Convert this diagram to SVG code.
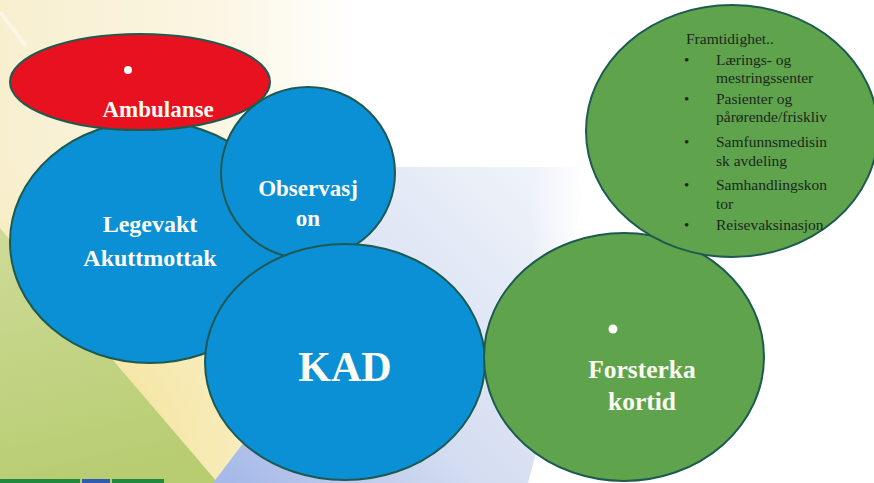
<svg xmlns="http://www.w3.org/2000/svg" width="874" height="483" viewBox="0 0 874 483">
  <defs>
    <linearGradient id="creamWash" x1="0" y1="0" x2="360" y2="0" gradientUnits="userSpaceOnUse">
      <stop offset="0" stop-color="#f8efcf"/>
      <stop offset="0.6" stop-color="#fbf6e3"/>
      <stop offset="1" stop-color="#ffffff"/>
    </linearGradient>
    <radialGradient id="creamGlow" cx="60" cy="460" r="300" gradientUnits="userSpaceOnUse">
      <stop offset="0" stop-color="#f3e08e" stop-opacity="1"/>
      <stop offset="0.7" stop-color="#f6e7a8" stop-opacity="0.6"/>
      <stop offset="1" stop-color="#f8eecb" stop-opacity="0"/>
    </radialGradient>
    <linearGradient id="meadow" x1="0" y1="230" x2="60" y2="483" gradientUnits="userSpaceOnUse">
      <stop offset="0" stop-color="#cedb98"/>
      <stop offset="1" stop-color="#b8cd72"/>
    </linearGradient>
    <linearGradient id="skyWedge" x1="225" y1="475" x2="520" y2="175" gradientUnits="userSpaceOnUse">
      <stop offset="0" stop-color="#a6b9e8"/>
      <stop offset="0.4" stop-color="#d3dcf1"/>
      <stop offset="1" stop-color="#eef2f9"/>
    </linearGradient>
    <linearGradient id="wedgeFade" x1="530" y1="0" x2="585" y2="0" gradientUnits="userSpaceOnUse">
      <stop offset="0" stop-color="#ffffff" stop-opacity="0"/>
      <stop offset="1" stop-color="#ffffff" stop-opacity="1"/>
    </linearGradient>
    <style>
      .ring { stroke: #1d5a50; stroke-width: 2; }
      .blue { fill: #0b8fd5; }
      .green { fill: #5fa34d; }
      .red { fill: #e8111f; }
      .label { font-family: "Liberation Serif", "Times New Roman", serif; font-weight: bold; fill: #fbfbf2; text-anchor: middle; }
      .list { font-family: "Liberation Serif", "Times New Roman", serif; font-size: 15.5px; fill: #1b281c; }
      .bullet { font-family: "Liberation Serif", "Times New Roman", serif; font-size: 15px; fill: #1b281c; }
      .dot { fill: #ffffff; }
    </style>
  </defs>

  <!-- backdrop -->
  <rect width="874" height="483" fill="#ffffff"/>
  <rect x="0" y="0" width="360" height="483" fill="url(#creamWash)"/>
  <rect x="0" y="160" width="360" height="323" fill="url(#creamGlow)"/>
  <polygon points="0,228 218,483 0,483" fill="url(#meadow)"/>
  <polygon points="213,483 250,434 380,167 585,167 550,400 528,483" fill="url(#skyWedge)"/>
  <polygon points="500,167 585,167 550,400 528,483 500,483" fill="url(#wedgeFade)"/>
  <line x1="0" y1="12" x2="26" y2="46" stroke="#ffffff" stroke-width="4" stroke-opacity="0.45"/>
  <g id="colour-strip">
    <rect x="0" y="479" width="80" height="4" fill="#1f8a3d"/>
    <rect x="82" y="479" width="28" height="4" fill="#2d5db0"/>
    <rect x="112" y="479" width="52" height="4" fill="#1f8a3d"/>
  </g>

  <!-- connectors: none drawn, bubbles touch and overlap -->
  <g id="connectors"/>

  <g id="legevakt">
    <ellipse class="blue ring" cx="150" cy="242" rx="140" ry="121"/>
    <text class="label" x="150" y="232" font-size="24">Legevakt</text>
    <text class="label" x="150" y="266" font-size="24">Akuttmottak</text>
  </g>

  <g id="observasjon">
    <ellipse class="blue ring" cx="308" cy="173" rx="87" ry="86"/>
    <text class="label" x="308" y="196" font-size="23">Observasj</text>
    <text class="label" x="308" y="226" font-size="23">on</text>
  </g>

  <g id="kad">
    <ellipse class="blue ring" cx="345" cy="362" rx="140" ry="118"/>
    <text class="label" x="345" y="381" font-size="42">KAD</text>
  </g>

  <g id="ambulanse">
    <ellipse class="red ring" cx="140" cy="82" rx="130" ry="48"/>
    <circle class="dot" cx="128" cy="70" r="4"/>
    <text class="label" x="158" y="117" font-size="23">Ambulanse</text>
  </g>

  <g id="forsterka-kortid">
    <ellipse class="green ring" cx="624" cy="357" rx="140" ry="124"/>
    <circle class="dot" cx="613" cy="329" r="4.5"/>
    <text class="label" x="642" y="378" font-size="25.5">Forsterka</text>
    <text class="label" x="642" y="410" font-size="25.5">kortid</text>
  </g>

  <g id="framtidighet">
    <ellipse class="green ring" cx="732" cy="131" rx="146" ry="126"/>
    <text class="list" x="686" y="44">Framtidighet..</text>
    <text class="bullet" x="684" y="65">•</text>
    <text class="list" x="716" y="65">Lærings- og</text>
    <text class="list" x="716" y="83">mestringssenter</text>
    <text class="bullet" x="684" y="104">•</text>
    <text class="list" x="716" y="104">Pasienter og</text>
    <text class="list" x="716" y="122">pårørende/friskliv</text>
    <text class="bullet" x="684" y="147">•</text>
    <text class="list" x="716" y="147">Samfunnsmedisin</text>
    <text class="list" x="716" y="166">sk avdeling</text>
    <text class="bullet" x="684" y="190">•</text>
    <text class="list" x="716" y="190">Samhandlingskon</text>
    <text class="list" x="716" y="209">tor</text>
    <text class="bullet" x="684" y="230">•</text>
    <text class="list" x="716" y="230">Reisevaksinasjon</text>
  </g>
</svg>
